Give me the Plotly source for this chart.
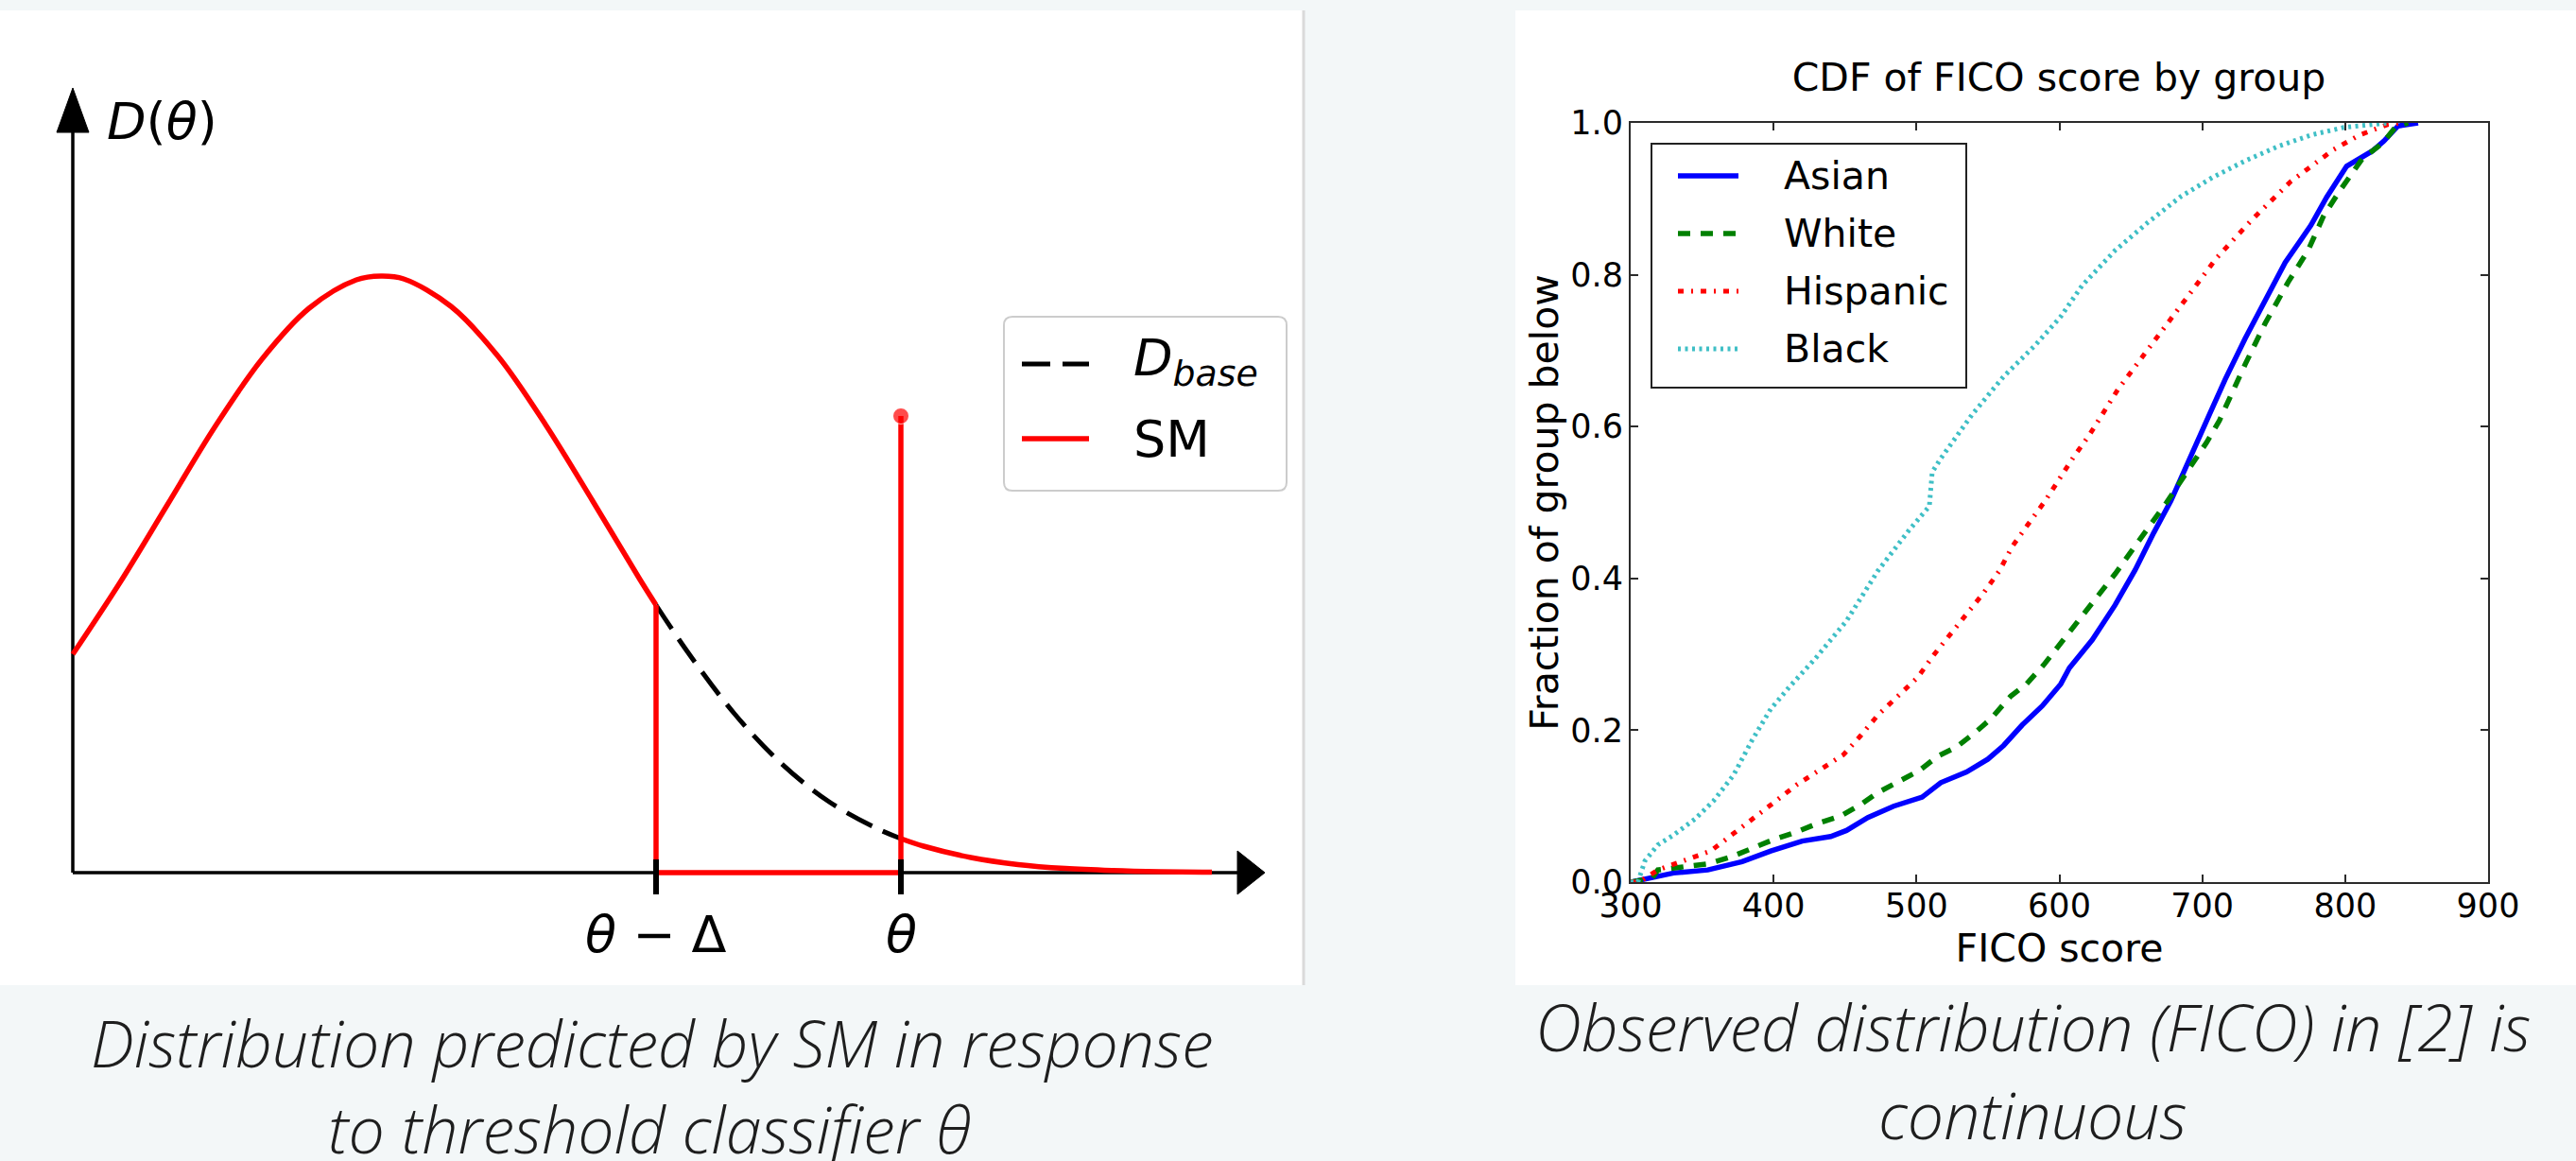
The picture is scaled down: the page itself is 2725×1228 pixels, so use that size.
import plotly.graph_objects as go

W, H = 2725, 1228
PAGE_BG = "#F3F7F8"

# ---------------- Left panel: conceptual distribution ----------------
base_x = [0.0, 0.5, 1.0, 1.5, 2.0, 2.5, 3.0, 3.26, 3.5, 4.0, 4.5, 5.0, 5.5, 6.0, 6.17,
          6.5, 7.0, 7.5, 8.0, 8.5, 8.76, 9.0, 9.5, 10.0, 10.5, 11.0, 11.5, 12.05]
base_y = [2.31, 3.07, 3.89, 4.71, 5.43, 5.97, 6.27, 6.31, 6.28, 5.99, 5.46, 4.74, 3.93, 3.10, 2.83,
          2.34, 1.68, 1.15, 0.75, 0.47, 0.36, 0.28, 0.16, 0.086, 0.044, 0.022, 0.010, 0.004]
theta_minus_delta = 6.17
theta = 8.76
spike_height = 4.83
left_tick_vals = [theta_minus_delta, theta]
left_tick_text = ["<i>θ</i> − Δ", "<i>θ</i>"]
left_legend = ["<i>D</i><sub><i>base</i></sub>", "SM"]

# ---------------- Right panel: FICO CDFs ----------------
asian_x = [300, 314, 330, 354, 378, 398, 420, 440, 451, 466, 484, 504, 517, 535, 550, 561, 574, 588,
           601, 607, 623, 639, 653, 666, 678, 705, 716, 730, 744, 758, 776, 787, 801, 808, 819, 827, 837, 851]
asian_y = [0, .006, .012, .016, .027, .041, .054, .060, .068, .085, .100, .112, .131, .145, .162, .180, .207, .232,
           .261, .282, .319, .365, .411, .460, .502, .616, .662, .716, .766, .816, .865, .902, .943, .951, .963, .976, .996, 1.0]
white_x = [300, 315, 319, 336, 354, 370, 385, 400, 416, 429, 447, 460, 473, 489, 502, 515, 528, 541, 552, 566,
           577, 589, 603, 621, 639, 655, 671, 675, 703, 712, 730, 744, 760, 774, 785, 796, 812, 826, 835, 844]
white_y = [0, .005, .016, .020, .024, .033, .045, .056, .066, .076, .087, .101, .118, .134, .147, .166, .178, .197, .215, .245,
           .261, .286, .319, .361, .406, .448, .489, .500, .579, .608, .682, .736, .790, .832, .878, .910, .953, .973, .994, 1.0]
hisp_x = [300, 306, 319, 338, 356, 372, 387, 401, 416, 431, 449, 461, 473, 487, 501, 512, 523, 535, 547, 558,
          567, 578, 590, 610, 621, 641, 664, 687, 710, 735, 762, 792, 810, 830, 840]
hisp_y = [0, 0, .016, .029, .041, .064, .085, .106, .128, .147, .168, .193, .220, .245, .270, .299, .325, .352, .381, .410,
          .442, .471, .502, .560, .589, .649, .707, .766, .822, .873, .923, .965, .984, .998, 1.0]
black_x = [300, 305, 310, 319, 330, 345, 358, 372, 385, 398, 411, 429, 451, 473, 495, 505, 509, 511, 517, 539,
           561, 583, 601, 616, 639, 662, 685, 707, 730, 753, 776, 799, 821, 830]
black_y = [0, 0, .028, .049, .062, .083, .107, .141, .187, .228, .257, .294, .344, .410, .464, .485, .495, .540, .558, .616,
           .666, .707, .745, .786, .832, .869, .903, .928, .950, .969, .984, .994, .999, 1.0]
fico_ticks = [300, 400, 500, 600, 700, 800, 900]
frac_ticks = [0.0, 0.2, 0.4, 0.6, 0.8, 1.0]
groups = ["Asian", "White", "Hispanic", "Black"]
group_x = [asian_x, white_x, hisp_x, black_x]
group_y = [asian_y, white_y, hisp_y, black_y]
group_colors = ["#0000FF", "#008000", "#FF0000", "#3FBFC6"]
group_dash = ["solid", "13px,11px", "6px,8px,2px,8px", "3px,4.5px"]
group_width = [5.5, 5.5, 5, 5]

title_text = "CDF of FICO score by group"
caption_left = ["Distribution predicted by SM in response", "to threshold classifier <i>θ</i>"]
caption_right = ["Observed distribution (FICO) in [2] is", "continuous"]

# ---------------- layout helpers (pixel -> coordinates) ----------------
AX0_PX, AY0_PX = 77, 923  # left chart origin in pixels (100 px per unit)


def lx(px):
    return (px - AX0_PX) / 100.0


def ly(py):
    return (AY0_PX - py) / 100.0


def px_(px):
    return px / W


def py_(py):
    return 1 - py / H


fig = go.Figure()

# --- left: split the base curve around the threshold ---
pairs = list(zip(base_x, base_y))
low = [(x, y) for x, y in pairs if x <= theta_minus_delta]
mid = [(x, y) for x, y in pairs if theta_minus_delta <= x <= theta]
high = [(x, y) for x, y in pairs if x >= theta]

fig.add_trace(go.Scatter(x=[p[0] for p in mid], y=[p[1] for p in mid], mode="lines",
                         line=dict(color="black", width=5, dash="30px,13px", shape="spline"),
                         name="D_base", showlegend=False, xaxis="x", yaxis="y"))
RED = "#FF0000"
fig.add_trace(go.Scatter(x=[p[0] for p in low], y=[p[1] for p in low], mode="lines",
                         line=dict(color=RED, width=5.5, shape="spline"), name="SM",
                         showlegend=False, xaxis="x", yaxis="y"))
fig.add_trace(go.Scatter(x=[theta_minus_delta, theta_minus_delta, theta],
                         y=[low[-1][1], 0, 0], mode="lines",
                         line=dict(color=RED, width=5.5), showlegend=False, xaxis="x", yaxis="y"))
fig.add_trace(go.Scatter(x=[p[0] for p in high], y=[p[1] for p in high], mode="lines",
                         line=dict(color=RED, width=5.5, shape="spline"), showlegend=False,
                         xaxis="x", yaxis="y"))
fig.add_trace(go.Scatter(x=[theta, theta], y=[0, spike_height], mode="lines+markers",
                         line=dict(color=RED, width=5.5), marker=dict(size=[0, 17], color=RED),
                         showlegend=False, xaxis="x", yaxis="y"))

# --- right: CDF curves ---
for name, xs, ys, c, d, w in zip(groups, group_x, group_y, group_colors, group_dash, group_width):
    fig.add_trace(go.Scatter(x=xs, y=ys, mode="lines", name=name,
                             line=dict(color=c, width=w, dash=d),
                             showlegend=False, xaxis="x2", yaxis="y2"))

shapes = []
# page panels
shapes.append(dict(type="rect", xref="paper", yref="paper", x0=0, x1=px_(1378), y0=py_(1042), y1=py_(11),
                   fillcolor="white", line=dict(width=0), layer="below"))
shapes.append(dict(type="rect", xref="paper", yref="paper", x0=px_(1603), x1=1, y0=py_(1042), y1=py_(11),
                   fillcolor="white", line=dict(width=0), layer="below"))
shapes.append(dict(type="line", xref="paper", yref="paper", x0=px_(1379), x1=px_(1379), y0=py_(1042), y1=py_(11),
                   line=dict(color="#DADADA", width=3), layer="below"))
# left axes
shapes.append(dict(type="line", xref="x", yref="y", x0=0, x1=lx(1315), y0=0, y1=0,
                   line=dict(color="black", width=3.5), layer="below"))
shapes.append(dict(type="line", xref="x", yref="y", x0=0, x1=0, y0=0, y1=ly(135),
                   line=dict(color="black", width=3.5), layer="below"))
# arrow heads
shapes.append(dict(type="path", xref="x", yref="y",
                   path=f"M {lx(60)},{ly(140)} L {lx(94)},{ly(140)} L {lx(77)},{ly(93)} Z",
                   fillcolor="black", line=dict(color="black", width=1)))
shapes.append(dict(type="path", xref="x", yref="y",
                   path=f"M {lx(1309)},{ly(900)} L {lx(1309)},{ly(946)} L {lx(1338)},{ly(923)} Z",
                   fillcolor="black", line=dict(color="black", width=1)))
# tick marks
for tv in left_tick_vals:
    shapes.append(dict(type="line", xref="x", yref="y", x0=tv, x1=tv, y0=ly(946), y1=ly(909),
                       line=dict(color="black", width=6)))
# left legend box (rounded)
x0, x1, y0, y1, r = lx(1062), lx(1361), ly(519), ly(335), 0.09
rpath = (f"M {x0 + r},{y0} L {x1 - r},{y0} Q {x1},{y0} {x1},{y0 + r} L {x1},{y1 - r} Q {x1},{y1} {x1 - r},{y1} "
         f"L {x0 + r},{y1} Q {x0},{y1} {x0},{y1 - r} L {x0},{y0 + r} Q {x0},{y0} {x0 + r},{y0} Z")
shapes.append(dict(type="path", xref="x", yref="y", path=rpath, fillcolor="white",
                   line=dict(color="#CCCCCC", width=2)))
shapes.append(dict(type="line", xref="x", yref="y", x0=lx(1081), x1=lx(1152), y0=ly(385), y1=ly(385),
                   line=dict(color="black", width=5, dash="30px,13px")))
shapes.append(dict(type="line", xref="x", yref="y", x0=lx(1081), x1=lx(1152), y0=ly(464), y1=ly(464),
                   line=dict(color=RED, width=5.5)))
# right legend box
shapes.append(dict(type="rect", xref="paper", yref="paper", x0=px_(1747), x1=px_(2080), y0=py_(410), y1=py_(152),
                   fillcolor="white", line=dict(color="#222222", width=2)))
row_y = [186, 247, 308, 369]
for ry, c, d, w in zip(row_y, group_colors, group_dash, group_width):
    shapes.append(dict(type="line", xref="paper", yref="paper", x0=px_(1775), x1=px_(1839),
                       y0=py_(ry), y1=py_(ry), line=dict(color=c, width=w, dash=d)))

ann = []
LFONT = dict(family="DejaVu Sans", size=54, color="black")
ann.append(dict(xref="x", yref="y", x=lx(111), y=ly(128), text="<i>D</i>(<i>θ</i>)", showarrow=False,
                xanchor="left", yanchor="middle", font=LFONT))
for tv, tt in zip(left_tick_vals, left_tick_text):
    ann.append(dict(xref="x", yref="y", x=tv, y=ly(988), text=tt, showarrow=False,
                    xanchor="center", yanchor="middle", font=LFONT))
ann.append(dict(xref="x", yref="y", x=lx(1197), y=ly(382), text=left_legend[0], showarrow=False,
                xanchor="left", yanchor="middle", font=LFONT))
ann.append(dict(xref="x", yref="y", x=lx(1197), y=ly(464), text=left_legend[1], showarrow=False,
                xanchor="left", yanchor="middle", font=LFONT))
RFONT = dict(family="DejaVu Sans", size=41, color="black")
for ry, g in zip(row_y, groups):
    ann.append(dict(xref="paper", yref="paper", x=px_(1885), y=py_(ry), text=g, showarrow=False,
                    xanchor="left", yanchor="middle", font=RFONT))
CFONT = dict(family="Open Sans", size=68, color="#1E1E1E", weight=300, style="italic")
for txt, cx, cy in [(caption_left[0], 690, 1102), (caption_left[1], 687, 1193),
                    (caption_right[0], 2150, 1085), (caption_right[1], 2150, 1178)]:
    ann.append(dict(xref="paper", yref="paper", x=px_(cx), y=py_(cy), text=txt, showarrow=False,
                    xanchor="center", yanchor="middle", font=CFONT, borderpad=0))

fig.update_layout(
    width=W, height=H, autosize=False,
    margin=dict(l=0, r=0, t=0, b=0, pad=0, autoexpand=False),
    paper_bgcolor=PAGE_BG, plot_bgcolor="rgba(0,0,0,0)",
    showlegend=False,
    title=dict(text=title_text, x=px_(2178), y=py_(82), xanchor="center", yanchor="middle",
               xref="paper", yref="paper", font=RFONT, automargin=False),
    xaxis=dict(domain=[0, px_(1378)], range=[lx(0), lx(1378)], visible=False, fixedrange=True,
               automargin=False),
    yaxis=dict(domain=[py_(1042), py_(11)], range=[ly(1042), ly(11)], visible=False, fixedrange=True,
               automargin=False),
    xaxis2=dict(domain=[px_(1725), px_(2632)], range=[300, 900], anchor="y2", automargin=False,
                tickvals=fico_ticks, ticktext=[str(v) for v in fico_ticks],
                showline=True, mirror="allticks", linecolor="#2B2B2B", linewidth=2,
                ticks="inside", ticklen=8, tickwidth=1.5, tickcolor="#2B2B2B",
                tickfont=dict(family="DejaVu Sans", size=35, color="black"),
                showgrid=False, zeroline=False, ticklabelstandoff=-7,
                title=dict(text="FICO score", font=RFONT, standoff=11)),
    yaxis2=dict(domain=[py_(933), py_(130)], range=[0, 1], anchor="x2", automargin=False,
                tickvals=frac_ticks, ticktext=[f"{v:.1f}" for v in frac_ticks],
                showline=True, mirror="allticks", linecolor="#2B2B2B", linewidth=2,
                ticks="inside", ticklen=8, tickwidth=1.5, tickcolor="#2B2B2B",
                tickfont=dict(family="DejaVu Sans", size=35, color="black"),
                showgrid=False, zeroline=False, ticklabelstandoff=-1,
                title=dict(text="Fraction of group below", font=RFONT, standoff=0)),
    shapes=shapes,
    annotations=ann,
)

fig.write_html("out.html", config={"displayModeBar": False},
               post_script="document.body.style.margin='0';document.body.style.overflow='hidden';")
